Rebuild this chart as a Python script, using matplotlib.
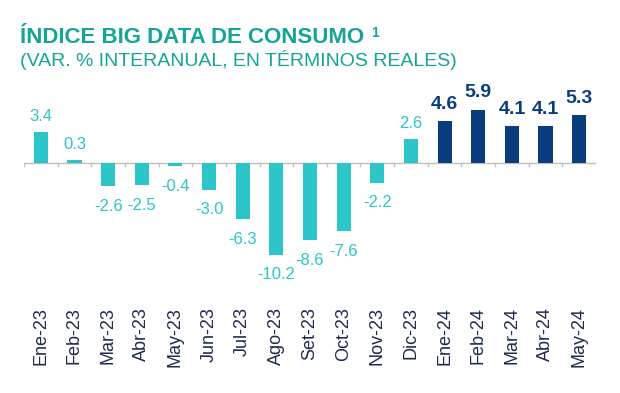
import numpy as np
import matplotlib.pyplot as plt

plt.rcParams['font.family'] = ['Liberation Sans', 'DejaVu Sans']

# Datos
meses = ['Ene-23', 'Feb-23', 'Mar-23', 'Abr-23', 'May-23', 'Jun-23', 'Jul-23',
         'Ago-23', 'Set-23', 'Oct-23', 'Nov-23', 'Dic-23',
         'Ene-24', 'Feb-24', 'Mar-24', 'Abr-24', 'May-24']
valores = [3.4, 0.3, -2.6, -2.5, -0.4, -3.0, -6.3, -10.2, -8.6, -7.6, -2.2, 2.6,
           4.6, 5.9, 4.1, 4.1, 5.3]
es_2024 = [m.endswith('24') for m in meses]

cian = '#2CC5C8'
azul = '#0A3D7E'
teal = '#14A498'
gris = '#BFBFBF'

fig = plt.figure(figsize=(6.2, 3.93), dpi=100)
ax = fig.add_axes([0.0387, 0.2494, 0.9226, 0.547])

x = np.arange(len(meses))
colores = [azul if f else cian for f in es_2024]
ax.bar(x, valores, width=0.42, color=colores, zorder=2)

# eje en cero con marcas entre categorias
ax.axhline(0, color=gris, lw=1, zorder=1)
for b in np.arange(-0.5, len(meses), 1.0):
    ax.plot([b, b], [0, -0.35], color=gris, lw=1, zorder=1)

# etiquetas de datos
for xi, v, f in zip(x, valores, es_2024):
    col = azul if f else cian
    fs = 14 if f else 12
    fw = 'bold' if f else 'normal'
    if v >= 0:
        ax.annotate(f'{v:.1f}', (xi, v), xytext=(0, 6), textcoords='offset points',
                    ha='center', va='bottom', color=col, fontsize=fs, fontweight=fw)
    else:
        ax.annotate(f'{v:.1f}', (xi, v), xytext=(0, -9), textcoords='offset points',
                    ha='center', va='top', color=col, fontsize=fs, fontweight=fw)

ax.set_xlim(-0.5, len(meses) - 0.5)
ax.set_ylim(-14.7, 9.2)
ax.set_xticks(x)
ax.set_xticklabels(meses, rotation=90, fontsize=13, color='#1F2B4D')
ax.tick_params(axis='x', length=0, pad=9)
ax.set_yticks([])
for s in ax.spines.values():
    s.set_visible(False)

# titulo
t = fig.text(0.032, 1 - 43 / 393, 'ÍNDICE BIG DATA DE CONSUMO', fontsize=16,
             fontweight='bold', color=teal, ha='left', va='baseline')
fig.text(0.032, 1 - 66 / 393, '(VAR. % INTERANUAL, EN TÉRMINOS REALES)', fontsize=14,
         color=teal, ha='left', va='baseline')
ax.annotate('1', xy=(1, 1), xycoords=t, xytext=(5, 1), textcoords='offset points',
            ha='left', va='top', fontsize=10, fontweight='bold', color=teal,
            annotation_clip=False)

fig.savefig('out.png', dpi=100)
